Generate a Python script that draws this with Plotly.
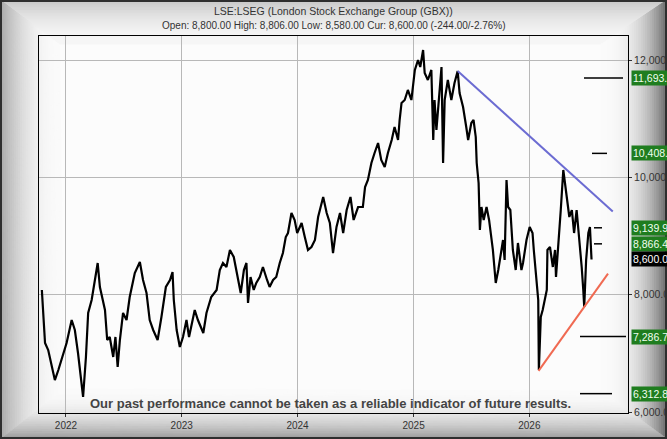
import plotly.graph_objects as go

# ---------------- data ----------------
dates = [
    "2021-10-17", "2021-10-22", "2021-10-27", "2021-11-06", "2021-11-17", "2021-11-27", "2021-12-08", "2021-12-23",
    "2022-01-03", "2022-01-19", "2022-01-29", "2022-02-08", "2022-02-19", "2022-02-24", "2022-03-05", "2022-03-12",
    "2022-03-23", "2022-04-02", "2022-04-11", "2022-04-18", "2022-04-26", "2022-05-04", "2022-05-11", "2022-05-19",
    "2022-05-30", "2022-06-06", "2022-06-13", "2022-06-20", "2022-06-30", "2022-07-11", "2022-07-21", "2022-08-06",
    "2022-08-22", "2022-09-01", "2022-09-12", "2022-09-22", "2022-10-03", "2022-10-17", "2022-10-29", "2022-11-12",
    "2022-11-25", "2022-12-03", "2022-12-07", "2022-12-16", "2022-12-26",
    "2023-01-05", "2023-01-16", "2023-01-24", "2023-02-11", "2023-02-21", "2023-03-10", "2023-03-20", "2023-04-04",
    "2023-04-21", "2023-05-01", "2023-05-11", "2023-05-22", "2023-06-02", "2023-06-14", "2023-06-22", "2023-07-06",
    "2023-07-16", "2023-07-24", "2023-07-29", "2023-08-06", "2023-08-16", "2023-08-24", "2023-09-04", "2023-09-14",
    "2023-09-27", "2023-10-05", "2023-10-16", "2023-10-26", "2023-11-06", "2023-11-16", "2023-11-25", "2023-12-02",
    "2023-12-13", "2023-12-23", "2023-12-31",
    "2024-01-14", "2024-01-24", "2024-02-03", "2024-02-14", "2024-02-25", "2024-03-06", "2024-03-22", "2024-04-02",
    "2024-04-12", "2024-04-22", "2024-05-03", "2024-05-14", "2024-05-24", "2024-06-04", "2024-06-16", "2024-06-26",
    "2024-07-10", "2024-07-25", "2024-08-01", "2024-08-10", "2024-08-21", "2024-08-31", "2024-09-11", "2024-09-21",
    "2024-10-02", "2024-10-12", "2024-10-24", "2024-11-02", "2024-11-13", "2024-11-18", "2024-11-24", "2024-12-04",
    "2024-12-14", "2024-12-25", "2024-12-31",
    "2025-01-05", "2025-01-15", "2025-01-22", "2025-01-31", "2025-02-05", "2025-02-15", "2025-02-26", "2025-03-04",
    "2025-03-08", "2025-03-14", "2025-03-19", "2025-03-30", "2025-04-04", "2025-04-09", "2025-04-19", "2025-04-30",
    "2025-05-10", "2025-05-20", "2025-05-26", "2025-06-06", "2025-06-16", "2025-06-22", "2025-07-02", "2025-07-09",
    "2025-07-16", "2025-07-19", "2025-07-25", "2025-07-29", "2025-08-03", "2025-08-10", "2025-08-19", "2025-08-27",
    "2025-09-08", "2025-09-17", "2025-09-25", "2025-10-05", "2025-10-10", "2025-10-15", "2025-10-21", "2025-10-26",
    "2025-11-02", "2025-11-10", "2025-11-19", "2025-11-26", "2025-12-07", "2025-12-12", "2025-12-23",
    "2026-01-02", "2026-01-11", "2026-01-15", "2026-01-22", "2026-01-29", "2026-01-31", "2026-02-06", "2026-02-12",
    "2026-02-19", "2026-02-25", "2026-02-27", "2026-03-07", "2026-03-16", "2026-03-23", "2026-03-26", "2026-04-02",
    "2026-04-10", "2026-04-18", "2026-04-29", "2026-05-07", "2026-05-15", "2026-05-22", "2026-05-30", "2026-06-08",
    "2026-06-15", "2026-06-20", "2026-06-23", "2026-06-29", "2026-07-06", "2026-07-11", "2026-07-16",
]
prices = [
    8080, 7517, 7176, 7057, 6767, 6545, 6716, 7006,
    7176, 7568, 7398, 7006, 6545, 6256, 6938, 7688, 7909, 8250, 8540, 8131, 7960, 7739, 7227, 7279,
    6938, 7279, 6767, 7227, 7688, 7568, 7960, 8369, 8557, 8250, 8028, 7568, 7398, 7227, 7619, 8131,
    8250, 8386, 7909, 7398, 7108,
    7279, 7568, 7279, 7739, 7568, 7347, 7688, 7960, 8080, 8420, 8540, 8472, 8762, 8642, 8420, 8028,
    8420, 8540, 7858, 8301, 8080, 8199, 8301, 8472, 8250, 8131, 8250, 8301, 8540, 8710, 8983, 9051,
    9392, 9273, 9051,
    9222, 8983, 8762, 8813, 8932, 9324, 9665, 9392, 9222, 8710, 9154, 9392, 9051, 9443, 9665, 9273,
    9494, 9494, 9835, 9955, 10244, 10415, 10585, 10295, 10176, 10415, 10636, 10858, 10636, 10977, 11267, 11318,
    11489, 11318, 11659,
    11830, 12000, 11881, 12170, 11778, 11659, 11830, 10636, 11318, 10807, 11199, 11881, 10244, 11318, 11659, 11318,
    11608, 11812, 11437, 11199, 10858, 10636, 10926, 10977, 10688, 10244, 9903, 9102, 9494, 9273, 9494, 9273,
    8762, 8199, 8420, 8762, 8932, 8591, 9955, 9494, 9443, 8762, 8420, 8881, 8420, 8540, 8932,
    9154, 9051, 8762, 8301, 7909, 6716, 7619, 7739, 7909, 8080, 8762, 8813, 8472, 8762, 8301, 8932,
    9443, 10125, 9665, 9324, 9443, 9051, 9443, 8932, 8472, 8080, 7790, 8591, 9051, 9154, 8600,
]

down_trend_dates = ["2025-05-20", "2026-09-21"]
down_trend_values = [11812, 9419]
up_trend_dates = ["2026-01-30", "2026-09-06"]
up_trend_values = [6700, 8359]

level_values = [11693.0, 10408.5, 9139.9, 8866.4, 7286.7, 6312.8]
current_value = 8600.0

year_ticks = ["2022-01-01", "2023-01-01", "2024-01-01", "2025-01-01", "2026-01-01"]
year_labels = ["2022", "2023", "2024", "2025", "2026"]
price_ticks = [6000, 8000, 10000, 12000]

title_text = "LSE:LSEG (London Stock Exchange Group (GBX))"
subtitle_text = "Open: 8,800.00 High: 8,806.00 Low: 8,580.00 Cur: 8,600.00 (-244.00/-2.76%)"
disclaimer_text = "Our past performance cannot be taken as a reliable indicator of future results."

# ---------------- layout geometry ----------------
W, H = 667, 439
ML, MR, MT, MB = 39, 39, 36, 26
PW, PH = W - ML - MR, H - MT - MB


def px(x):
    return (x - ML) / PW


def py(y):
    return (H - MB - y) / PH


FONT = "Liberation Sans, Arial, sans-serif"

shapes = []

# bevelled picture-frame background made of graded bands
outer = [(0, 0), (W, 0), (W, H), (0, H)]
inner = [(60, 45), (600, 45), (600, 390), (65, 388)]
side_cols = [((196, 196, 196), (246, 246, 246), 2.0),   # top
             ((100, 100, 100), (250, 250, 250), 2.6),   # right
             ((150, 150, 150), (250, 250, 250), 2.2),   # bottom
             ((165, 165, 165), (250, 250, 250), 2.2)]   # left
N = 30
for s in range(4):
    o0, o1 = outer[s], outer[(s + 1) % 4]
    i0, i1 = inner[s], inner[(s + 1) % 4]
    c_out, c_in, g = side_cols[s]
    for k in range(N):
        t0, t1 = k / N, (k + 1) / N
        tm = (t0 + t1) / 2
        f = 1 - (1 - tm) ** g
        col = "rgb(%d,%d,%d)" % tuple(round(a + (b - a) * f) for a, b in zip(c_out, c_in))
        pts = []
        for (a, b, t) in [(o0, i0, t0), (o1, i1, t0), (o1, i1, t1), (o0, i0, t1)]:
            xx = a[0] + (b[0] - a[0]) * t
            yy = a[1] + (b[1] - a[1]) * t
            pts.append((px(xx), py(yy)))
        path = "M " + " L ".join("%.5f %.5f" % p for p in pts) + " Z"
        shapes.append(dict(type="path", path=path, xref="paper", yref="paper",
                           fillcolor=col, line=dict(color=col, width=1), layer="below"))
# inner panel
path = "M " + " L ".join("%.5f %.5f" % (px(a), py(b)) for a, b in inner) + " Z"
shapes.append(dict(type="path", path=path, xref="paper", yref="paper",
                   fillcolor="rgb(252,252,252)", line=dict(color="rgb(252,252,252)", width=1), layer="below"))
# outer frame line
shapes.append(dict(type="rect", xref="paper", yref="paper", x0=px(1), x1=px(W - 1), y0=py(H - 1), y1=py(1),
                   line=dict(color="#2e2e2e", width=2), fillcolor="rgba(0,0,0,0)", layer="above"))

# short target-level marks
level_spans = [(584, 623), (592, 607), (594, 602), (594, 602), (580, 626), (580, 612)]
for v, (a, b) in zip(level_values, level_spans):
    shapes.append(dict(type="line", xref="paper", yref="y", x0=px(a), x1=px(b), y0=v, y1=v,
                       line=dict(color="black", width=1.5), layer="above"))

fig = go.Figure()

fig.add_trace(go.Scatter(x=dates, y=prices, mode="lines",
                         line=dict(color="black", width=2.2), hoverinfo="skip", showlegend=False))
fig.add_trace(go.Scatter(x=down_trend_dates, y=down_trend_values, mode="lines",
                         line=dict(color="#6c6cd2", width=2), hoverinfo="skip", showlegend=False))
fig.add_trace(go.Scatter(x=up_trend_dates, y=up_trend_values, mode="lines",
                         line=dict(color="#f06a52", width=2), hoverinfo="skip", showlegend=False))

annotations = [
    dict(text=title_text, x=0.5, y=py(11), xref="paper", yref="paper", showarrow=False,
         xanchor="center", yanchor="middle", font=dict(family=FONT, size=10.5, color="#333333")),
    dict(text=subtitle_text, x=0.5, y=py(25), xref="paper", yref="paper", showarrow=False,
         xanchor="center", yanchor="middle", font=dict(family=FONT, size=10, color="#333333")),
    dict(text="<b>" + disclaimer_text + "</b>", x=px(330), y=py(403), xref="paper", yref="paper",
         showarrow=False, xanchor="center", yanchor="middle",
         font=dict(family=FONT, size=13, color="#444444")),
]
for v in level_values:
    annotations.append(dict(text=f"{v:,.1f}", x=px(631), y=v, xref="paper", yref="y", showarrow=False,
                            xanchor="left", yanchor="middle", bgcolor="#1f7d1f", borderpad=1,
                            font=dict(family=FONT, size=10.5, color="#f0fff0")))
annotations.append(dict(text=f"{current_value:,.1f}", x=px(631), y=current_value, xref="paper", yref="y",
                        showarrow=False, xanchor="left", yanchor="middle", bgcolor="#000000", borderpad=1,
                        font=dict(family=FONT, size=10.5, color="#ffffff")))

fig.update_layout(
    width=W, height=H,
    margin=dict(l=ML, r=MR, t=MT, b=MB, pad=0, autoexpand=False),
    paper_bgcolor="white",
    plot_bgcolor="rgba(0,0,0,0)",
    shapes=shapes,
    annotations=annotations,
    showlegend=False,
    xaxis=dict(type="date", range=["2021-10-08", "2026-11-08"], tickvals=year_ticks, ticktext=year_labels,
               automargin=False,
               showgrid=True, gridcolor="#b8b8b8", gridwidth=1, zeroline=False,
               showline=True, linecolor="black", linewidth=1, mirror=True,
               ticks="outside", ticklen=3, tickcolor="#333333",
               tickfont=dict(family=FONT, size=10, color="#333333")),
    yaxis=dict(side="right", range=[5983, 12409], tickvals=price_ticks,
               ticktext=[f"{v:,.1f}" for v in price_ticks], automargin=False,
               showgrid=True, gridcolor="#b8b8b8", gridwidth=1, zeroline=False,
               showline=True, linecolor="black", linewidth=1, mirror=True,
               ticks="outside", ticklen=3, tickcolor="#333333",
               tickfont=dict(family=FONT, size=10.5, color="#333333")),
)

fig.write_html("out.html")
